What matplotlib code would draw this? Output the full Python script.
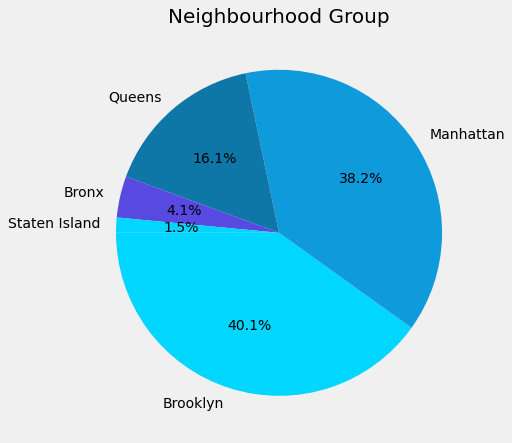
import matplotlib
matplotlib.use("Agg")
import matplotlib.pyplot as plt

# neighbourhood group shares (percent)
groups = ["Brooklyn", "Manhattan", "Queens", "Bronx", "Staten Island"]
shares = [40.1, 38.2, 16.1, 4.1, 1.5]
colors = ["#00d6ff", "#0e9adb", "#0f76a8", "#5849e0", "#00d6ff"]

plt.style.use("fivethirtyeight")

fig = plt.figure(figsize=(512 / 72, 443 / 72), dpi=72)
ax = fig.add_axes([0.147, 0.0145, 0.796, 0.92])
ax.pie(shares, labels=groups, colors=colors, autopct="%1.1f%%",
       startangle=180, textprops={"fontsize": 14})
ax.set_title("Neighbourhood Group", fontsize=20)
plt.savefig("out.png", dpi=72)
